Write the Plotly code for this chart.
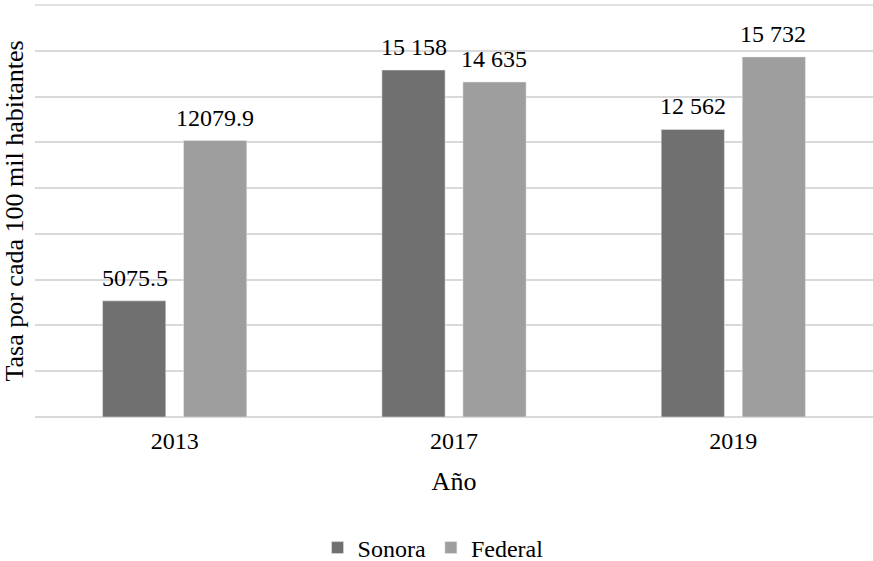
import plotly.graph_objects as go

years = ["2013", "2017", "2019"]
sonora = [5075.5, 15158, 12562]
federal = [12079.9, 14635, 15732]
sonora_labels = ["5075.5", "15 158", "12 562"]
federal_labels = ["12079.9", "14 635", "15 732"]

font_family = "Liberation Serif, Times New Roman, serif"
grid_color = "#d9d9d9"

fig = go.Figure()
fig.add_trace(go.Bar(x=years, y=sonora, name="Sonora", marker_color="#707070"))
fig.add_trace(go.Bar(x=years, y=federal, name="Federal", marker_color="#9e9e9e"))

# value labels above each bar (category index, offset by half a bar slot within the group)
for vals, labs, shift in [(sonora, sonora_labels, -40), (federal, federal_labels, 40)]:
    for i, (yv, lab) in enumerate(zip(vals, labs)):
        fig.add_annotation(x=i, y=yv, text=lab, showarrow=False, xref="x", yref="y",
                           xshift=shift, yshift=8, yanchor="bottom",
                           font=dict(size=24, color="#000000", family=font_family))

# top border line of the plot area (matches the top gridline)
fig.add_shape(type="line", xref="paper", yref="paper", x0=0, x1=1, y0=1, y1=1,
              line=dict(color=grid_color, width=1.5), layer="below")

fig.update_layout(
    width=873, height=561,
    margin=dict(l=35, r=0, t=5, b=144, autoexpand=False),
    paper_bgcolor="white", plot_bgcolor="white",
    barmode="group", bargap=0.42, bargroupgap=0.22,
    font=dict(family=font_family, size=24, color="#000000"),
    showlegend=True,
    legend=dict(orientation="h", x=0.475, xanchor="center", y=-0.318, yanchor="middle",
                font=dict(size=24, family=font_family), traceorder="normal"),
)
fig.update_xaxes(type="category", categoryorder="array", categoryarray=years,
                 range=[-0.5, len(years) - 0.5],
                 title=dict(text="Año", font=dict(size=26, family=font_family), standoff=18),
                 tickfont=dict(size=24, family=font_family),
                 showline=False, showgrid=False, zeroline=False, ticks="",
                 ticklabelstandoff=7)
fig.update_yaxes(range=[0, 18000], dtick=2000, showticklabels=False, showline=False,
                 ticks="",
                 gridcolor=grid_color, gridwidth=1.5, zeroline=True, zerolinecolor=grid_color,
                 zerolinewidth=1.5,
                 title=dict(text="Tasa por cada 100 mil habitantes",
                            font=dict(size=26, family=font_family), standoff=6))

fig.write_html("out.html")
